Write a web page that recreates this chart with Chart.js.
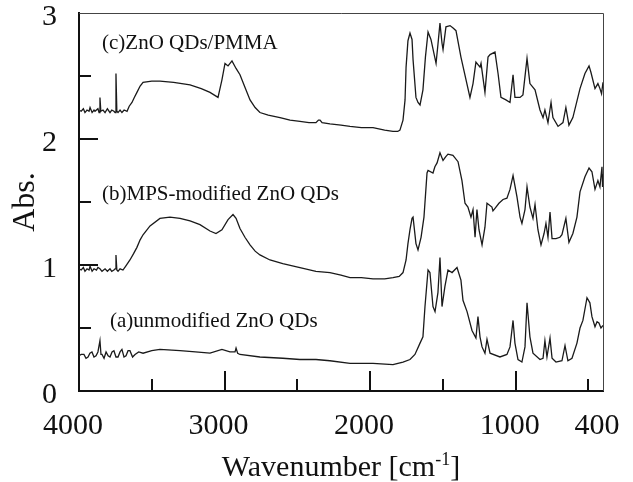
<!DOCTYPE html>
<html>
<head>
<meta charset="utf-8">
<script src="https://cdn.jsdelivr.net/npm/chart.js@4/dist/chart.umd.min.js"></script>
<style>
  html, body { margin: 0; padding: 0; background: #fff; }
  #wrap { width: 633px; height: 482px; position: relative; }
</style>
</head>
<body>
<div id="wrap"><canvas id="ftir"></canvas></div>
<script>
// spectra: [wavenumber cm-1, absorbance]
const spectrumA = [
  [4000,0.28],[3985,0.29],[3966,0.29],[3952,0.26],[3938,0.27],[3925,0.30],[3911,0.31],[3897,0.27],
  [3883,0.28],[3870,0.31],[3856,0.40],[3849,0.29],[3842,0.29],[3828,0.26],[3814,0.31],[3800,0.28],
  [3787,0.27],[3773,0.31],[3760,0.32],[3746,0.27],[3732,0.27],[3718,0.31],[3705,0.33],[3691,0.27],
  [3677,0.28],[3663,0.32],[3650,0.32],[3632,0.27],[3615,0.29],[3590,0.31],[3560,0.30],[3500,0.32],
  [3444,0.33],[3306,0.32],[3200,0.31],[3100,0.30],[3018,0.33],[2963,0.31],[2928,0.31],[2921,0.34],
  [2910,0.30],[2894,0.29],[2757,0.27],[2600,0.26],[2482,0.25],[2372,0.25],[2276,0.24],[2138,0.22],
  [1980,0.22],[1843,0.21],[1774,0.23],[1726,0.25],[1692,0.29],[1657,0.38],[1637,0.43],[1623,0.67],
  [1602,0.96],[1589,0.94],[1568,0.67],[1554,0.63],[1534,0.78],[1520,1.06],[1506,0.67],[1486,0.83],
  [1465,0.96],[1437,0.94],[1403,0.98],[1376,0.88],[1362,0.72],[1334,0.63],[1300,0.48],[1273,0.42],
  [1259,0.59],[1245,0.43],[1231,0.35],[1211,0.30],[1197,0.41],[1176,0.30],[1108,0.27],[1060,0.29],
  [1039,0.35],[1018,0.56],[1005,0.38],[984,0.25],[957,0.23],[936,0.35],[922,0.70],[902,0.43],
  [881,0.30],[833,0.25],[812,0.26],[799,0.40],[785,0.27],[764,0.42],[750,0.26],[723,0.23],
  [682,0.24],[661,0.36],[641,0.24],[613,0.26],[579,0.38],[558,0.50],[538,0.56],[510,0.74],
  [490,0.70],[476,0.59],[455,0.51],[441,0.55],[428,0.54],[414,0.50],[400,0.52]
];

const spectrumB = [
  [4000,0.97],[3985,0.96],[3970,0.98],[3959,0.95],[3945,0.97],[3931,0.96],[3924,0.99],[3910,0.95],
  [3897,0.97],[3880,0.96],[3870,0.98],[3856,0.97],[3842,0.95],[3821,0.97],[3805,0.95],[3787,0.97],
  [3775,0.95],[3760,0.96],[3752,0.97],[3746,1.08],[3740,0.96],[3732,0.95],[3718,0.97],[3698,0.96],
  [3680,0.99],[3650,1.04],[3625,1.09],[3602,1.14],[3580,1.20],[3560,1.24],[3512,1.31],[3444,1.37],
  [3375,1.38],[3306,1.37],[3237,1.35],[3169,1.32],[3100,1.27],[3059,1.25],[3018,1.28],[2976,1.36],
  [2942,1.40],[2921,1.37],[2894,1.29],[2860,1.22],[2825,1.16],[2790,1.11],[2757,1.08],[2688,1.04],
  [2600,1.01],[2482,0.98],[2372,0.95],[2276,0.94],[2200,0.92],[2138,0.90],[2060,0.90],
  [1980,0.89],[1900,0.89],[1843,0.90],[1800,0.91],[1774,0.94],[1753,1.04],[1740,1.17],[1726,1.28],
  [1712,1.37],[1705,1.38],[1685,1.17],[1671,1.12],[1650,1.22],[1630,1.38],[1609,1.73],[1602,1.75],
  [1568,1.73],[1555,1.78],[1540,1.81],[1520,1.89],[1499,1.83],[1480,1.86],[1465,1.88],[1431,1.87],
  [1396,1.82],[1369,1.67],[1348,1.49],[1328,1.46],[1307,1.38],[1293,1.44],[1279,1.22],[1266,1.44],
  [1252,1.28],[1231,1.16],[1211,1.30],[1197,1.49],[1163,1.46],[1156,1.43],[1142,1.45],[1115,1.49],
  [1087,1.52],[1060,1.53],[1039,1.60],[1018,1.71],[991,1.54],[970,1.38],[957,1.33],[936,1.44],
  [922,1.62],[902,1.46],[881,1.37],[867,1.48],[847,1.28],[826,1.16],[805,1.25],[792,1.33],
  [778,1.22],[764,1.42],[750,1.21],[723,1.21],[696,1.22],[682,1.24],[655,1.37],[634,1.18],
  [607,1.25],[579,1.38],[558,1.58],[524,1.70],[496,1.77],[476,1.74],[455,1.60],[435,1.67],
  [421,1.62],[414,1.70],[407,1.78],[403,1.62],[400,1.72]
];

const spectrumC = [
  [4000,2.23],[3985,2.22],[3970,2.24],[3959,2.21],[3945,2.23],[3931,2.22],[3924,2.25],[3910,2.21],
  [3897,2.23],[3890,2.22],[3870,2.24],[3862,2.21],[3856,2.33],[3850,2.22],[3835,2.23],[3821,2.21],
  [3805,2.24],[3787,2.21],[3775,2.23],[3760,2.22],[3752,2.21],[3746,2.52],[3740,2.22],[3732,2.21],
  [3718,2.23],[3705,2.21],[3690,2.23],[3670,2.22],[3655,2.26],[3636,2.29],[3620,2.33],[3602,2.37],
  [3580,2.42],[3560,2.45],[3500,2.46],[3444,2.46],[3350,2.45],[3237,2.43],[3160,2.40],[3100,2.37],
  [3045,2.33],[3018,2.47],[2997,2.60],[2976,2.58],[2949,2.62],[2921,2.56],[2894,2.51],[2860,2.41],
  [2825,2.31],[2790,2.25],[2757,2.21],[2700,2.19],[2619,2.17],[2550,2.15],[2482,2.14],[2420,2.13],
  [2372,2.13],[2355,2.15],[2344,2.15],[2330,2.13],[2276,2.12],[2200,2.11],[2138,2.10],[2060,2.09],
  [1980,2.09],[1900,2.07],[1843,2.06],[1810,2.06],[1795,2.07],[1774,2.15],[1760,2.31],[1753,2.57],
  [1740,2.78],[1726,2.84],[1712,2.79],[1705,2.63],[1685,2.33],[1671,2.29],[1657,2.27],[1637,2.39],
  [1620,2.65],[1602,2.85],[1582,2.79],[1547,2.60],[1534,2.75],[1520,2.92],[1506,2.76],[1499,2.71],
  [1479,2.89],[1451,2.90],[1430,2.88],[1410,2.86],[1376,2.65],[1341,2.47],[1314,2.33],[1293,2.44],
  [1273,2.61],[1245,2.57],[1238,2.60],[1211,2.37],[1190,2.65],[1176,2.67],[1142,2.69],[1121,2.52],
  [1101,2.33],[1067,2.31],[1039,2.29],[1018,2.51],[1005,2.33],[970,2.33],[950,2.35],[922,2.64],
  [902,2.44],[867,2.39],[833,2.23],[812,2.17],[799,2.23],[778,2.13],[757,2.29],[744,2.17],
  [709,2.10],[675,2.13],[655,2.25],[634,2.11],[607,2.17],[558,2.40],[524,2.52],[496,2.58],
  [483,2.53],[455,2.40],[435,2.44],[421,2.40],[410,2.36],[400,2.45]
];

const seriesLabels = ["(a)unmodified ZnO QDs", "(b)MPS-modified ZnO QDs", "(c)ZnO QDs/PMMA"];
// where each label sits: [wavenumber of left edge, absorbance of text middle]
const labelAnchors = [[3787, 0.55], [3842, 1.56], [3842, 2.76]];

const xTickLabels = [4000, 3000, 2000, 1000, 400];
const xMajorTicks = [3000, 2000, 1000];
const xMinorTicks = [3500, 2500, 1500, 500];
const yTickLabels = [0, 1, 2, 3];
const yMajorTicks = [1, 2];
const yMinorTicks = [0.5, 1.5, 2.5];

const SERIF = "'Liberation Serif', 'Times New Roman', serif";
const INK = "#111";

function toPoints(pairs) {
  return pairs.map(function (p) {
    return { x: p[0], y: p[1] };
  });
}

const framePlugin = {
  id: "frame",
  afterDraw: function (chart) {
    const ctx = chart.ctx;
    const area = chart.chartArea;
    const xs = chart.scales.x;
    const ys = chart.scales.y;

    ctx.save();
    // thin top and right frame
    ctx.strokeStyle = "#444";
    ctx.lineWidth = 1;
    ctx.beginPath();
    ctx.moveTo(area.left, area.top + 0.5);
    ctx.lineTo(area.right + 0.5, area.top + 0.5);
    ctx.lineTo(area.right + 0.5, area.bottom);
    ctx.stroke();

    // inward ticks
    ctx.strokeStyle = INK;
    ctx.lineWidth = 2;
    ctx.beginPath();
    xMajorTicks.forEach(function (v) {
      const px = Math.round(xs.getPixelForValue(v));
      ctx.moveTo(px, area.bottom);
      ctx.lineTo(px, area.bottom - 20);
    });
    xMinorTicks.forEach(function (v) {
      const px = Math.round(xs.getPixelForValue(v));
      ctx.moveTo(px, area.bottom);
      ctx.lineTo(px, area.bottom - 12);
    });
    yMajorTicks.forEach(function (v) {
      const py = Math.round(ys.getPixelForValue(v));
      ctx.moveTo(area.left, py);
      ctx.lineTo(area.left + 19, py);
    });
    yMinorTicks.forEach(function (v) {
      const py = Math.round(ys.getPixelForValue(v));
      ctx.moveTo(area.left, py);
      ctx.lineTo(area.left + 12, py);
    });
    ctx.stroke();

    // series labels
    ctx.fillStyle = INK;
    ctx.font = "21px " + SERIF;
    ctx.textAlign = "left";
    ctx.textBaseline = "middle";
    seriesLabels.forEach(function (text, i) {
      const a = labelAnchors[i];
      ctx.fillText(text, xs.getPixelForValue(a[0]), ys.getPixelForValue(a[1]));
    });

    // x axis title with superscript
    const base = "Wavenumber [cm";
    const sup = "-1";
    const tail = "]";
    ctx.textBaseline = "alphabetic";
    ctx.font = "30px " + SERIF;
    const wBase = ctx.measureText(base).width;
    const wTail = ctx.measureText(tail).width;
    ctx.font = "18px " + SERIF;
    const wSup = ctx.measureText(sup).width;
    const total = wBase + wSup + wTail;
    const cx = (area.left + area.right) / 2;
    let tx = cx - total / 2;
    const baseY = 476;
    ctx.font = "30px " + SERIF;
    ctx.fillText(base, tx, baseY);
    tx += wBase;
    ctx.font = "18px " + SERIF;
    ctx.fillText(sup, tx, baseY - 11);
    tx += wSup;
    ctx.font = "30px " + SERIF;
    ctx.fillText(tail, tx, baseY);

    // y axis title
    ctx.translate(26, (area.top + area.bottom) / 2);
    ctx.rotate(-Math.PI / 2);
    ctx.textAlign = "center";
    ctx.textBaseline = "middle";
    ctx.font = "32px " + SERIF;
    ctx.fillText("Abs.", 0, 0);
    ctx.restore();
  },
};

const lineStyle = {
  showLine: true,
  borderColor: "#1a1a1a",
  borderWidth: 1.3,
  pointRadius: 0,
  tension: 0,
  fill: false,
};

new Chart(document.getElementById("ftir"), {
  type: "scatter",
  data: {
    datasets: [
      Object.assign({ label: seriesLabels[0], data: toPoints(spectrumA) }, lineStyle),
      Object.assign({ label: seriesLabels[1], data: toPoints(spectrumB) }, lineStyle),
      Object.assign({ label: seriesLabels[2], data: toPoints(spectrumC) }, lineStyle),
    ],
  },
  options: {
    responsive: true,
    maintainAspectRatio: false,
    animation: false,
    layout: { padding: { top: 13, right: 30, left: 0, bottom: 0 } },
    plugins: {
      legend: { display: false },
      tooltip: { enabled: false },
    },
    scales: {
      x: {
        type: "linear",
        reverse: true,
        min: 400,
        max: 4000,
        afterBuildTicks: function (scale) {
          scale.ticks = xTickLabels.map(function (v) {
            return { value: v };
          });
        },
        afterFit: function (scale) {
          scale.height = 91;
          scale.paddingLeft = 0;
          scale.paddingRight = 0;
        },
        grid: { drawOnChartArea: false, drawTicks: false },
        border: { display: true, color: INK, width: 2 },
        ticks: {
          autoSkip: false,
          maxRotation: 0,
          padding: 17,
          labelOffset: -6,
          color: INK,
          font: { family: SERIF, size: 30 },
          callback: function (v) {
            return String(v);
          },
        },
      },
      y: {
        min: 0,
        max: 3,
        afterBuildTicks: function (scale) {
          scale.ticks = yTickLabels.map(function (v) {
            return { value: v };
          });
        },
        afterFit: function (scale) {
          scale.width = 79;
          scale.paddingTop = 0;
          scale.paddingBottom = 0;
        },
        grid: { drawOnChartArea: false, drawTicks: false },
        border: { display: true, color: INK, width: 2 },
        ticks: {
          padding: 22,
          labelOffset: 4,
          color: INK,
          font: { family: SERIF, size: 30, lineHeight: 0.8 },
        },
      },
    },
  },
  plugins: [framePlugin],
});
</script>
</body>
</html>
